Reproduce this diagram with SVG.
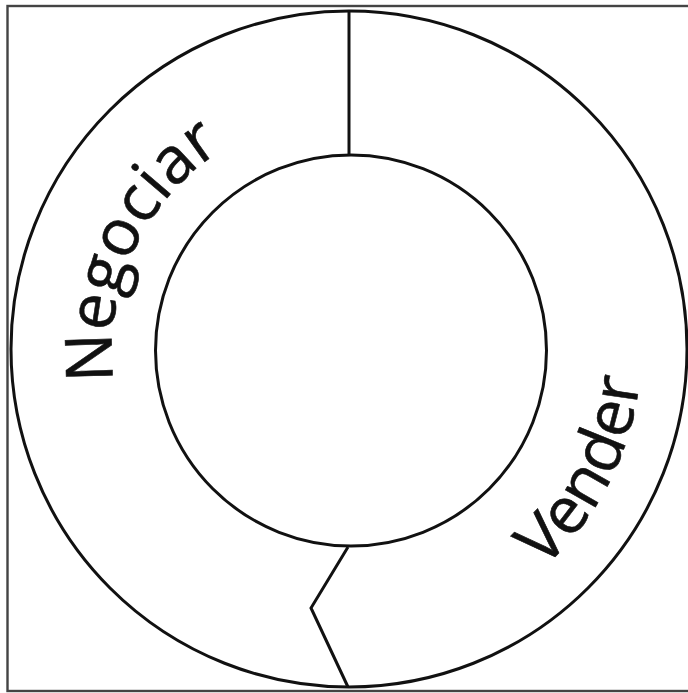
<svg xmlns="http://www.w3.org/2000/svg" width="688" height="693" viewBox="0 0 688 693">
  <style>
    .ln { fill: none; stroke: #111; stroke-width: 3; }
    .lbl { font-family: "Open Sans", "Noto Sans", sans-serif; font-size: 65px; fill: #111; stroke: #111; stroke-width: 0.6; }
  </style>
  <defs>
    <path id="arcNeg" d="M248.8,564.8 A237,237 0 0 1 134.2,249.8 A237,237 0 0 1 449.2,135.2"/>
    <path id="arcVen" d="M216.4,610.2 A292,292 0 0 0 609.2,482.6 A292,292 0 0 0 481.6,89.8"/>
  </defs>
  <rect x="7.5" y="6" width="700" height="685" fill="#fff" stroke="#444" stroke-width="2.4"/>
  <g id="outer-ring">
    <circle class="ln" cx="349" cy="349" r="338"/>
  </g>
  <g id="inner-circle">
    <circle class="ln" cx="351" cy="350.5" r="195.5"/>
  </g>
  <g id="connectors">
    <line class="ln" x1="349" y1="11" x2="349" y2="155"/>
    <polyline class="ln" points="348,547 311,608 348,687"/>
  </g>
  <g id="negociar">
    <text class="lbl" text-anchor="middle"><textPath href="#arcNeg" startOffset="50%">Negociar</textPath></text>
  </g>
  <g id="vender">
    <text class="lbl" text-anchor="middle"><textPath href="#arcVen" startOffset="50%">Vender</textPath></text>
  </g>
</svg>
